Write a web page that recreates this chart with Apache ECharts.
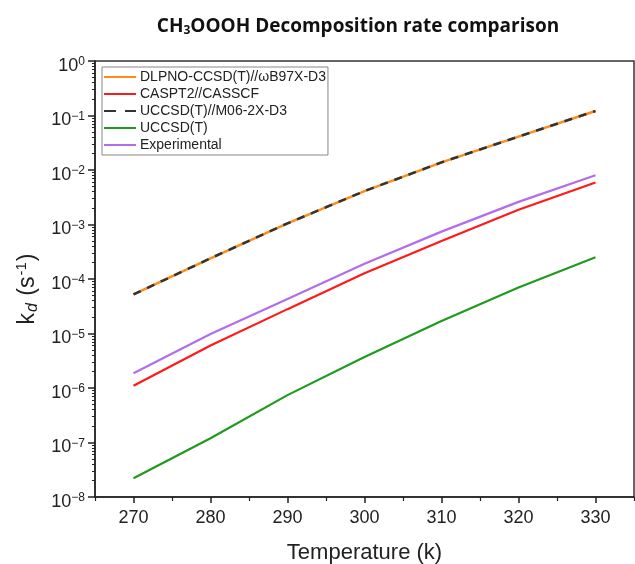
<!DOCTYPE html>
<html>
<head>
<meta charset="utf-8">
<script src="https://cdn.jsdelivr.net/npm/echarts@6/dist/echarts.min.js"></script>
<style>
	html, body { margin: 0; padding: 0; background: #fff; }
	#main { width: 635px; height: 564px; }
</style>
</head>
<body>
<div id="main"></div>
<script>
var temps = [270, 280, 290, 300, 310, 320, 330];
var dlpno = [5.2e-5, 2.4e-4, 1.05e-3, 4.1e-3, 1.38e-2, 4.1e-2, 0.121];
var caspt2 = [1.1e-6, 6.0e-6, 2.8e-5, 1.27e-4, 5.0e-4, 1.87e-3, 5.9e-3];
var uccsdM06 = [5.2e-5, 2.4e-4, 1.05e-3, 4.1e-3, 1.38e-2, 4.1e-2, 0.121];
var uccsd = [2.2e-8, 1.2e-7, 7.4e-7, 3.7e-6, 1.7e-5, 7.0e-5, 2.5e-4];
var experimental = [1.86e-6, 9.8e-6, 4.3e-5, 1.9e-4, 7.4e-4, 2.6e-3, 8.0e-3];

var legendArray = ['DLPNO-CCSD(T)//ωB97X-D3', 'CASPT2//CASSCF', 'UCCSD(T)//M06-2X-D3', 'UCCSD(T)', 'Experimental'];
var xMajorTicks = [270, 280, 290, 300, 310, 320, 330];
var xMinorTicks = [265, 275, 285, 295, 305, 315, 325, 335];
var yMajorTicks = [1e-8, 1e-7, 1e-6, 1e-5, 1e-4, 1e-3, 1e-2, 1e-1, 1];

// 2..9 x 10^n between the decades
var yMinorTicks = [];
for (var e = -8; e < 0; e++) {
	for (var m = 2; m <= 9; m++) {
		yMinorTicks.push(m * Math.pow(10, e));
	}
}

function pairs(ys) {
	var out = [];
	for (var i = 0; i < temps.length; i++) {
		out.push([temps[i], ys[i]]);
	}
	return out;
}

var chart = echarts.init(document.getElementById('main'));
var font = 'Liberation Sans, Arial, sans-serif';

var legendData = legendArray.map(function (n, i) {
	// the dashed item shows two long dashes in the legend
	return i === 2 ? { name: n, lineStyle: { type: [12, 9] } } : { name: n };
});

var option = {
	animation: false,
	backgroundColor: '#fff',
	title: {
		text: 'CH{sub|3}OOOH Decomposition rate comparison',
		left: 353,
		top: 12,
		textAlign: 'center',
		textStyle: {
			fontFamily: 'Open Sans',
			fontWeight: 'bold',
			fontSize: 19,
			color: '#111',
			rich: {
				sub: { fontFamily: 'Open Sans', fontWeight: 'bold', fontSize: 12, color: '#111', verticalAlign: 'bottom', padding: [8, 0, 0, 0] }
			}
		}
	},
	grid: {
		left: 95,
		right: 1,
		top: 61,
		bottom: 67,
		outerBoundsMode: 'none',
		containLabel: false,
		show: true,
		borderColor: '#333',
		borderWidth: 1.5
	},
	legend: {
		orient: 'vertical',
		left: 102,
		top: 67,
		data: legendData,
		itemWidth: 32,
		itemHeight: 14,
		itemGap: 3,
		padding: [3, 2, 3, 1],
		borderColor: '#888',
		borderWidth: 1,
		itemStyle: { opacity: 0 },
		textStyle: { fontFamily: font, fontSize: 14, color: '#222', padding: [0, 0, 0, -1] }
	},
	xAxis: [{
		type: 'value',
		min: 265,
		max: 335,
		name: 'Temperature (k)',
		nameLocation: 'middle',
		nameGap: 45,
		nameTextStyle: { fontFamily: font, fontSize: 22, color: '#222' },
		axisLine: { lineStyle: { color: '#222', width: 1.5 } },
		axisTick: { show: true, length: 6, customValues: xMajorTicks, lineStyle: { color: '#222', width: 1.5 } },
		axisLabel: { customValues: xMajorTicks, margin: 12, fontFamily: font, fontSize: 18, color: '#222' },
		splitLine: { show: false }
	}, {
		type: 'value',
		position: 'bottom',
		min: 265,
		max: 335,
		axisLine: { show: false },
		axisTick: { show: true, length: 4, customValues: xMinorTicks, lineStyle: { color: '#222', width: 1.2 } },
		axisLabel: { show: false },
		splitLine: { show: false }
	}],
	yAxis: [{
		type: 'log',
		logBase: 10,
		min: 1e-8,
		max: 1,
		name: '{k|k}{d|d}{p| (s}{s|-1}{p|)}',
		nameLocation: 'middle',
		nameGap: 54,
		nameTextStyle: {
			fontFamily: font,
			fontSize: 23,
			color: '#222',
			padding: [0, 20, 0, 0],
			rich: {
				k: { fontFamily: font, fontSize: 23, color: '#222' },
				d: { fontFamily: font, fontSize: 16, fontStyle: 'italic', color: '#222', verticalAlign: 'bottom', padding: [10, 1, 0, 1] },
				p: { fontFamily: font, fontSize: 23, color: '#222' },
				s: { fontFamily: font, fontSize: 15, color: '#222', verticalAlign: 'top', padding: [0, 1, 10, 1] }
			}
		},
		axisLine: { show: true, lineStyle: { color: '#222', width: 1.5 } },
		axisTick: { show: true, length: 7, customValues: yMajorTicks, lineStyle: { color: '#222', width: 1.5 } },
		axisLabel: {
			customValues: yMajorTicks,
			margin: 10,
			padding: [10, 0, 0, 0],
			formatter: function (v) {
				var p = Math.round(Math.log10(v));
				return '{b|10}{s|' + (p < 0 ? '\u2212' + (-p) : p) + '}';
			},
			rich: {
				b: { fontFamily: font, fontSize: 18, lineHeight: 20, color: '#222' },
				s: { fontFamily: font, fontSize: 12, lineHeight: 12, color: '#222', verticalAlign: 'top' }
			}
		},
		splitLine: { show: false }
	}, {
		type: 'log',
		logBase: 10,
		min: 1e-8,
		max: 1,
		position: 'left',
		axisLine: { show: false },
		axisTick: { show: true, length: 3, customValues: yMinorTicks, lineStyle: { color: '#222', width: 1 } },
		axisLabel: { show: false },
		splitLine: { show: false }
	}],
	series: [{
		name: legendArray[0],
		type: 'line',
		data: pairs(dlpno),
		symbol: 'none',
		lineStyle: { color: '#FF8C1A', width: 2.5 },
		itemStyle: { color: '#FF8C1A', opacity: 0 }
	}, {
		name: legendArray[1],
		type: 'line',
		data: pairs(caspt2),
		symbol: 'none',
		lineStyle: { color: '#FF1A1A', width: 2.2 },
		itemStyle: { color: '#FF1A1A', opacity: 0 }
	}, {
		name: legendArray[2],
		type: 'line',
		data: pairs(uccsdM06),
		symbol: 'none',
		lineStyle: { color: '#333', width: 2.5, type: [8, 7] },
		itemStyle: { color: '#333', opacity: 0 }
	}, {
		name: legendArray[3],
		type: 'line',
		data: pairs(uccsd),
		symbol: 'none',
		lineStyle: { color: '#1F9A1F', width: 2.2 },
		itemStyle: { color: '#1F9A1F', opacity: 0 }
	}, {
		name: legendArray[4],
		type: 'line',
		data: pairs(experimental),
		symbol: 'none',
		lineStyle: { color: '#B36DE8', width: 2.2 },
		itemStyle: { color: '#B36DE8', opacity: 0 }
	}]
};
chart.setOption(option);
</script>
</body>
</html>
